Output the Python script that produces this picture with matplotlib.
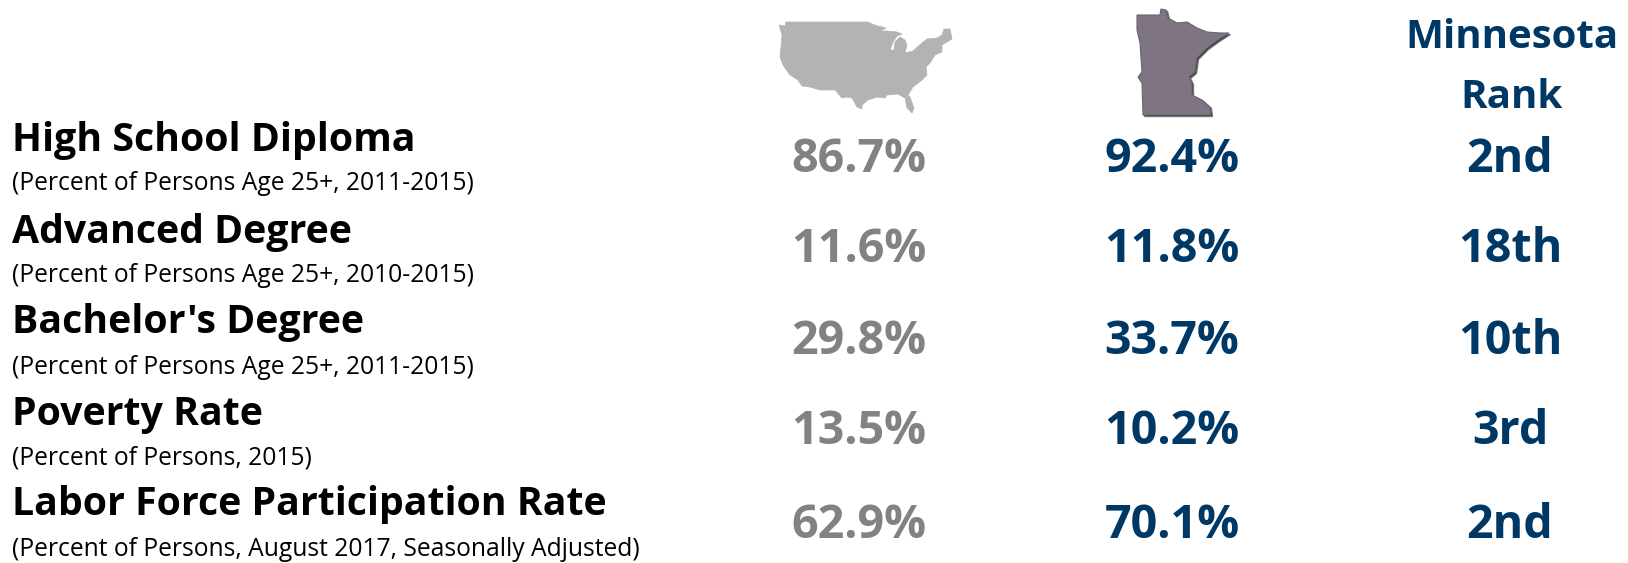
import matplotlib
matplotlib.use('Agg')
import matplotlib.pyplot as plt
from matplotlib.patches import Polygon

plt.rcParams['font.family'] = ['Open Sans', 'DejaVu Sans']

GRAY = '#828282'
NAVY = '#003865'

headings = ['High School Diploma', 'Advanced Degree', "Bachelor's Degree",
            'Poverty Rate', 'Labor Force Participation Rate']
subheads = ['(Percent of Persons Age 25+, 2011-2015)',
            '(Percent of Persons Age 25+, 2010-2015)',
            '(Percent of Persons Age 25+, 2011-2015)',
            '(Percent of Persons, 2015)',
            '(Percent of Persons, August 2017, Seasonally Adjusted)']
us_values = ['86.7%', '11.6%', '29.8%', '13.5%', '62.9%']
mn_values = ['92.4%', '11.8%', '33.7%', '10.2%', '70.1%']
mn_ranks = ['2nd', '18th', '10th', '3rd', '2nd']

# outlines, in pixels
us_outline = [(779, 25), (785, 26), (786, 22), (868, 22), (872, 24), (878, 26), (886, 28),
              (880, 31), (888, 31), (897, 32), (902, 34), (897, 36), (893, 42), (890, 50),
              (894, 50), (895, 42), (900, 37), (905, 40), (907, 45), (905, 53), (913, 51),
              (922, 43), (927, 39), (937, 38), (942, 35), (944, 29), (950, 29), (952, 39),
              (947, 42), (942, 45), (942, 52), (935, 55), (930, 63), (926, 67), (927, 75),
              (922, 80), (913, 87), (908, 95), (910, 97), (914, 108), (912, 113), (907, 108),
              (905, 98), (898, 94), (887, 95), (885, 98), (877, 97), (868, 100), (862, 105),
              (862, 109), (857, 107), (852, 98), (847, 97), (842, 98), (835, 90), (820, 90),
              (810, 87), (802, 86), (798, 80), (790, 75), (783, 65), (780, 57), (781, 47),
              (782, 35)]
mn_outline = [(1137, 15), (1160, 15), (1161, 9), (1166, 10), (1168, 18), (1177, 23), (1187, 22),
              (1197, 28), (1207, 32), (1220, 33), (1229, 33), (1218, 40), (1207, 48), (1197, 58),
              (1195, 72), (1189, 77), (1192, 83), (1192, 95), (1202, 100), (1210, 107),
              (1211, 115), (1143, 115), (1142, 83), (1138, 77), (1142, 72), (1140, 43), (1137, 30)]

row_head_y = [141, 232, 323, 415, 505]
row_sub_y = [184, 275, 367, 458, 550]
row_val_y = [159, 250, 341, 432, 526]

fig = plt.figure(figsize=(16.28, 5.63), dpi=100)
ax = fig.add_axes([0, 0, 1, 1])
ax.set_xlim(0, 1628)
ax.set_ylim(563, 0)
ax.axis('off')

ax.add_patch(Polygon(us_outline, closed=True, fc='#b3b3b3', ec='#b3b3b3', lw=0.5))
shadow = [(x + 1.5, y + 1.5) for x, y in mn_outline]
ax.add_patch(Polygon(shadow, closed=True, fc='#2b2b2b', ec='#777777', lw=1))
ax.add_patch(Polygon(mn_outline, closed=True, fc='#7f7482', ec='#6a6470', lw=0.8))

ax.text(1512, 38, 'Minnesota', color=NAVY, fontsize=29, fontweight='bold', ha='center', va='center')
ax.text(1512, 97, 'Rank', color=NAVY, fontsize=29, fontweight='bold', ha='center', va='center')

for i in range(len(headings)):
    ax.text(12, row_head_y[i], headings[i], color='black', fontsize=28.3, fontweight='bold', ha='left', va='center')
    ax.text(12, row_sub_y[i], subheads[i], color='black', fontsize=17.7, ha='left', va='center')
    ax.text(859, row_val_y[i], us_values[i], color=GRAY, fontsize=33.6, fontweight='bold', ha='center', va='center')
    ax.text(1172, row_val_y[i], mn_values[i], color=NAVY, fontsize=33.6, fontweight='bold', ha='center', va='center')
    ax.text(1510, row_val_y[i], mn_ranks[i], color=NAVY, fontsize=33.6, fontweight='bold', ha='center', va='center')

fig.savefig('out.png', dpi=100)
